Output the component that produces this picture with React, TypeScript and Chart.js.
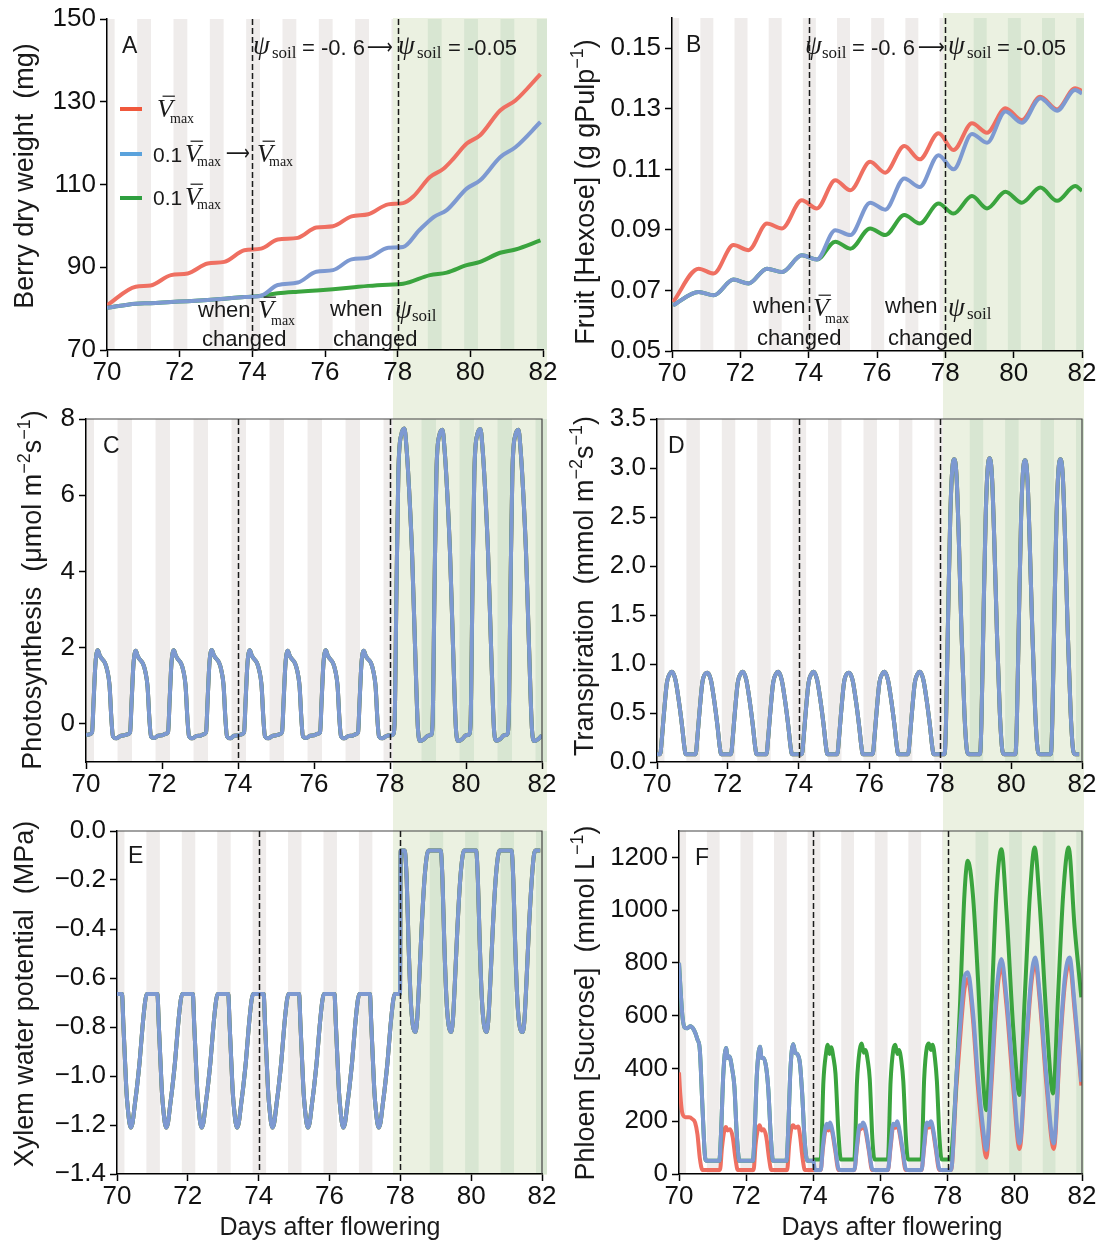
import React, { useEffect, useRef } from 'react';
import { Chart, registerables } from 'chart.js';
Chart.register(...registerables);

const SANS = 'Liberation Sans, Arial, Helvetica, sans-serif';
const SERIF = 'Liberation Serif, Times New Roman, serif';
const INK = '#1a1a1a';

const RED = '#ef6f61';
const BLUE = '#7d99d1';
const GREEN = '#3aa43e';
const RED_L = '#f0583c';
const BLUE_L = '#5aa2dc';
const GREEN_L = '#2e9f3f';
const GRAY_BAND = '#efeceb';
const GREEN_BG = '#ebf1e1';
const GREEN_BAND = '#d8e6d2';

// ---------- shared axis data ----------
const xTicks = [70, 72, 74, 76, 78, 80, 82];
const changeDays = [74, 78];
const nightBands = [
  [70.0, 70.21], [70.83, 71.21], [71.83, 72.21], [72.83, 73.21], [73.83, 74.21],
  [74.83, 75.21], [75.83, 76.21], [76.83, 77.21], [77.83, 78.21],
];
const wetNightBands = [[78.83, 79.21], [79.83, 80.21], [80.83, 81.21], [81.83, 82.2]];

// ---------- A: berry dry weight (mg) ----------
const dwTicks = [70, 90, 110, 130, 150];
const dwRedX = [70.00, 70.79, 71.20, 71.76, 72.22, 72.77, 73.23, 73.78, 74.24, 74.70, 75.25, 75.76, 76.22, 76.73, 77.19, 77.74, 78.15, 78.43, 78.89, 79.26, 79.53, 79.90, 80.27, 80.82, 81.24, 81.93];
const dwRedY = [80.8, 85.3, 85.6, 88.1, 88.5, 90.9, 91.3, 94.1, 94.5, 96.7, 97.1, 99.6, 99.9, 102.3, 102.8, 105.2, 105.5, 107.1, 111.8, 113.8, 116.2, 119.9, 121.9, 127.9, 130.3, 136.7];
const dwBlueX = [70.00, 70.79, 71.20, 71.76, 72.22, 72.77, 73.23, 73.78, 74.24, 74.70, 75.25, 75.76, 76.22, 76.73, 77.19, 77.74, 78.15, 78.60, 79.00, 79.35, 79.90, 80.27, 80.82, 81.24, 81.93];
const dwBlueY = [80.2, 81.2, 81.3, 81.6, 81.8, 82.1, 82.4, 82.8, 83.1, 85.7, 86.3, 88.9, 89.3, 91.9, 92.3, 94.7, 94.9, 99.0, 102.2, 103.8, 109.0, 111.0, 116.6, 119.0, 125.1];
const dwGreenX = [70.00, 70.79, 71.20, 71.76, 72.22, 72.77, 73.23, 73.78, 74.24, 74.70, 75.25, 75.76, 76.22, 76.73, 77.19, 77.74, 78.15, 78.89, 79.35, 79.90, 80.27, 80.82, 81.24, 81.93];
const dwGreenY = [80.2, 81.2, 81.3, 81.6, 81.8, 82.1, 82.4, 82.8, 83.1, 83.7, 84.1, 84.4, 84.7, 85.1, 85.5, 85.8, 86.0, 88.1, 88.7, 90.5, 91.3, 93.5, 94.3, 96.5];

// ---------- B: fruit hexose ----------
const hexTicks = [0.05, 0.07, 0.09, 0.11, 0.13, 0.15];
const hexX = [70.03, 70.78, 71.22, 71.80, 72.24, 72.78, 73.22, 73.80, 74.24, 74.78, 75.22, 75.80, 76.24, 76.80, 77.25, 77.80, 78.24, 78.78, 79.22, 79.76, 80.24, 80.78, 81.27, 81.80, 82.00];
const hexRedY = [0.0662, 0.0772, 0.0756, 0.0850, 0.0833, 0.0921, 0.0905, 0.0998, 0.0971, 0.1064, 0.1031, 0.1125, 0.1089, 0.1177, 0.1133, 0.1219, 0.1164, 0.1252, 0.1221, 0.1302, 0.1263, 0.1340, 0.1298, 0.1368, 0.1359];
const hexBlueY = [0.0651, 0.0695, 0.0684, 0.0736, 0.0723, 0.0772, 0.0761, 0.0816, 0.0802, 0.0899, 0.0883, 0.0990, 0.0967, 0.1070, 0.1042, 0.1147, 0.1100, 0.1217, 0.1188, 0.1291, 0.1254, 0.1335, 0.1294, 0.1362, 0.1351];
const hexGreenY = [0.0651, 0.0695, 0.0684, 0.0736, 0.0723, 0.0772, 0.0761, 0.0816, 0.0802, 0.0861, 0.0838, 0.0905, 0.0883, 0.0949, 0.0921, 0.0987, 0.0954, 0.1012, 0.0971, 0.1026, 0.0990, 0.1040, 0.0996, 0.1045, 0.1029];

// ---------- C: photosynthesis ----------
const photoTicks = [0, 2, 4, 6, 8];
const photoX = [
  70.00, 70.10, 70.16, 70.20, 70.25, 70.31, 70.36, 70.41, 70.50, 70.56, 70.62, 70.67, 70.71, 70.80, 70.90,
  71.00, 71.10, 71.16, 71.20, 71.25, 71.31, 71.36, 71.41, 71.50, 71.56, 71.62, 71.67, 71.71, 71.80, 71.90,
  72.00, 72.10, 72.16, 72.20, 72.25, 72.31, 72.36, 72.41, 72.50, 72.56, 72.62, 72.67, 72.71, 72.80, 72.90,
  73.00, 73.10, 73.16, 73.20, 73.25, 73.31, 73.36, 73.41, 73.50, 73.56, 73.62, 73.67, 73.71, 73.80, 73.90,
  74.00, 74.10, 74.16, 74.20, 74.25, 74.31, 74.36, 74.41, 74.50, 74.56, 74.62, 74.67, 74.71, 74.80, 74.90,
  75.00, 75.10, 75.16, 75.20, 75.25, 75.31, 75.36, 75.41, 75.50, 75.56, 75.62, 75.67, 75.71, 75.80, 75.90,
  76.00, 76.10, 76.16, 76.20, 76.25, 76.31, 76.36, 76.41, 76.50, 76.56, 76.62, 76.67, 76.71, 76.80, 76.90,
  77.00, 77.10, 77.16, 77.20, 77.25, 77.31, 77.36, 77.41, 77.50, 77.56, 77.62, 77.67, 77.71, 77.80, 77.90,
  78.00, 78.08, 78.12, 78.17, 78.22, 78.30, 78.38, 78.43, 78.50, 78.58, 78.66, 78.74, 78.80, 78.90,
  79.00, 79.08, 79.12, 79.17, 79.22, 79.30, 79.38, 79.43, 79.50, 79.58, 79.66, 79.74, 79.80, 79.90,
  80.00, 80.08, 80.12, 80.17, 80.22, 80.30, 80.38, 80.43, 80.50, 80.58, 80.66, 80.74, 80.80, 80.90,
  81.00, 81.08, 81.12, 81.17, 81.22, 81.30, 81.38, 81.43, 81.50, 81.58, 81.66, 81.74, 81.80, 81.90,
  82.00,
];
const photoY = [
  -0.30, -0.27, -0.22, 0.60, 1.60, 1.93, 1.80, 1.72, 1.60, 1.40, 1.00, 0.10, -0.33, -0.38, -0.32,
  -0.30, -0.27, -0.22, 0.58, 1.58, 1.92, 1.78, 1.70, 1.58, 1.38, 0.98, 0.10, -0.33, -0.37, -0.31,
  -0.30, -0.26, -0.21, 0.60, 1.61, 1.93, 1.80, 1.71, 1.59, 1.40, 1.00, 0.12, -0.32, -0.38, -0.32,
  -0.31, -0.27, -0.22, 0.61, 1.62, 1.94, 1.81, 1.73, 1.61, 1.41, 1.01, 0.11, -0.33, -0.38, -0.31,
  -0.30, -0.27, -0.22, 0.60, 1.60, 1.93, 1.80, 1.72, 1.60, 1.40, 1.00, 0.10, -0.33, -0.38, -0.32,
  -0.30, -0.27, -0.21, 0.59, 1.59, 1.92, 1.79, 1.71, 1.59, 1.39, 0.99, 0.10, -0.33, -0.37, -0.31,
  -0.30, -0.26, -0.22, 0.60, 1.61, 1.93, 1.80, 1.72, 1.60, 1.40, 1.00, 0.11, -0.32, -0.38, -0.32,
  -0.31, -0.27, -0.22, 0.60, 1.60, 1.92, 1.79, 1.71, 1.60, 1.39, 0.99, 0.10, -0.33, -0.38, -0.32,
  -0.30, -0.28, 0.00, 3.50, 6.60, 7.60, 7.75, 7.30, 6.20, 4.50, 2.00, -0.20, -0.45, -0.40,
  -0.31, -0.29, 0.00, 3.45, 6.55, 7.58, 7.72, 7.28, 6.18, 4.48, 1.98, -0.20, -0.45, -0.40,
  -0.30, -0.28, 0.02, 3.52, 6.60, 7.60, 7.74, 7.30, 6.20, 4.50, 2.00, -0.19, -0.44, -0.40,
  -0.30, -0.28, 0.00, 3.48, 6.58, 7.58, 7.72, 7.28, 6.18, 4.48, 1.98, -0.20, -0.45, -0.40,
  -0.30,
];

// ---------- D: transpiration ----------
const transTicks = [0, 0.5, 1.0, 1.5, 2.0, 2.5, 3.0, 3.5];
const transX = [
  70.00, 70.09, 70.14, 70.19, 70.28, 70.36, 70.42, 70.52, 70.61, 70.71, 70.77, 70.81,
  71.09, 71.14, 71.19, 71.28, 71.36, 71.42, 71.52, 71.61, 71.71, 71.77, 71.81,
  72.09, 72.14, 72.19, 72.28, 72.36, 72.42, 72.52, 72.61, 72.71, 72.77, 72.81,
  73.09, 73.14, 73.19, 73.28, 73.36, 73.42, 73.52, 73.61, 73.71, 73.77, 73.81,
  74.09, 74.14, 74.19, 74.28, 74.36, 74.42, 74.52, 74.61, 74.71, 74.77, 74.81,
  75.09, 75.14, 75.19, 75.28, 75.36, 75.42, 75.52, 75.61, 75.71, 75.77, 75.81,
  76.09, 76.14, 76.19, 76.28, 76.36, 76.42, 76.52, 76.61, 76.71, 76.77, 76.81,
  77.09, 77.14, 77.19, 77.28, 77.36, 77.42, 77.52, 77.61, 77.71, 77.77, 77.81,
  78.12, 78.16, 78.22, 78.28, 78.34, 78.40, 78.46, 78.52, 78.60, 78.68, 78.75, 78.80,
  79.12, 79.16, 79.22, 79.28, 79.34, 79.40, 79.46, 79.52, 79.60, 79.68, 79.75, 79.80,
  80.12, 80.16, 80.22, 80.28, 80.34, 80.40, 80.46, 80.52, 80.60, 80.68, 80.75, 80.80,
  81.12, 81.16, 81.22, 81.28, 81.34, 81.40, 81.46, 81.52, 81.60, 81.68, 81.75, 81.80,
  81.92,
];
const transY = [
  0.08, 0.08, 0.25, 0.47, 0.81, 0.90, 0.92, 0.84, 0.64, 0.36, 0.16, 0.08,
  0.08, 0.25, 0.47, 0.81, 0.90, 0.91, 0.84, 0.64, 0.36, 0.16, 0.08,
  0.08, 0.25, 0.47, 0.81, 0.90, 0.92, 0.84, 0.64, 0.36, 0.16, 0.08,
  0.08, 0.25, 0.47, 0.81, 0.90, 0.92, 0.84, 0.64, 0.36, 0.16, 0.08,
  0.08, 0.25, 0.47, 0.81, 0.90, 0.92, 0.84, 0.64, 0.36, 0.16, 0.08,
  0.08, 0.25, 0.47, 0.81, 0.90, 0.91, 0.84, 0.64, 0.36, 0.16, 0.08,
  0.08, 0.25, 0.47, 0.81, 0.90, 0.92, 0.84, 0.64, 0.36, 0.16, 0.08,
  0.08, 0.25, 0.47, 0.81, 0.90, 0.92, 0.84, 0.64, 0.36, 0.16, 0.08,
  0.08, 0.40, 1.50, 2.50, 3.00, 3.09, 2.90, 2.30, 1.30, 0.50, 0.12, 0.08,
  0.08, 0.40, 1.50, 2.50, 3.01, 3.10, 2.90, 2.30, 1.30, 0.50, 0.12, 0.08,
  0.08, 0.40, 1.49, 2.49, 2.99, 3.08, 2.89, 2.29, 1.30, 0.50, 0.12, 0.08,
  0.08, 0.40, 1.50, 2.50, 3.00, 3.09, 2.90, 2.30, 1.30, 0.50, 0.12, 0.08,
  0.08,
];

// ---------- E: xylem water potential ----------
const xylTicks = [-1.4, -1.2, -1.0, -0.8, -0.6, -0.4, -0.2, 0.0];
const xylX = [
  70.00, 70.14, 70.18, 70.23, 70.27, 70.31, 70.35, 70.39, 70.44, 70.50, 70.56, 70.64, 70.72, 70.80, 70.84,
  71.14, 71.18, 71.23, 71.27, 71.31, 71.35, 71.39, 71.44, 71.50, 71.56, 71.64, 71.72, 71.80, 71.84,
  72.14, 72.18, 72.23, 72.27, 72.31, 72.35, 72.39, 72.44, 72.50, 72.56, 72.64, 72.72, 72.80, 72.84,
  73.14, 73.18, 73.23, 73.27, 73.31, 73.35, 73.39, 73.44, 73.50, 73.56, 73.64, 73.72, 73.80, 73.84,
  74.14, 74.18, 74.23, 74.27, 74.31, 74.35, 74.39, 74.44, 74.50, 74.56, 74.64, 74.72, 74.80, 74.84,
  75.14, 75.18, 75.23, 75.27, 75.31, 75.35, 75.39, 75.44, 75.50, 75.56, 75.64, 75.72, 75.80, 75.84,
  76.14, 76.18, 76.23, 76.27, 76.31, 76.35, 76.39, 76.44, 76.50, 76.56, 76.64, 76.72, 76.80, 76.84,
  77.14, 77.18, 77.23, 77.27, 77.31, 77.35, 77.39, 77.44, 77.50, 77.56, 77.64, 77.72, 77.80, 77.84,
  77.99, 78.01,
  78.12, 78.18, 78.23, 78.29, 78.35, 78.42, 78.47, 78.53, 78.60, 78.68, 78.75, 78.80,
  79.14, 79.19, 79.24, 79.30, 79.36, 79.43, 79.48, 79.54, 79.61, 79.69, 79.76, 79.80,
  80.14, 80.19, 80.24, 80.30, 80.36, 80.43, 80.48, 80.54, 80.61, 80.69, 80.76, 80.80,
  81.14, 81.19, 81.24, 81.30, 81.36, 81.45, 81.50, 81.56, 81.63, 81.71, 81.77, 81.81,
  81.95,
];
const xylY = [
  -0.665, -0.665, -0.79, -0.95, -1.07, -1.14, -1.19, -1.21, -1.19, -1.12, -1.05, -0.94, -0.80, -0.69, -0.665,
  -0.665, -0.79, -0.95, -1.07, -1.14, -1.19, -1.21, -1.19, -1.12, -1.05, -0.94, -0.80, -0.69, -0.665,
  -0.665, -0.79, -0.95, -1.07, -1.14, -1.19, -1.21, -1.19, -1.12, -1.05, -0.94, -0.80, -0.69, -0.665,
  -0.665, -0.79, -0.95, -1.07, -1.14, -1.19, -1.21, -1.19, -1.12, -1.05, -0.94, -0.80, -0.69, -0.665,
  -0.665, -0.79, -0.95, -1.07, -1.14, -1.19, -1.21, -1.19, -1.12, -1.05, -0.94, -0.80, -0.69, -0.665,
  -0.665, -0.79, -0.95, -1.07, -1.14, -1.19, -1.21, -1.19, -1.12, -1.05, -0.94, -0.80, -0.69, -0.665,
  -0.665, -0.79, -0.95, -1.07, -1.14, -1.19, -1.21, -1.19, -1.12, -1.05, -0.94, -0.80, -0.69, -0.665,
  -0.665, -0.79, -0.95, -1.07, -1.14, -1.19, -1.21, -1.19, -1.12, -1.05, -0.94, -0.80, -0.69, -0.665,
  -0.665, -0.08,
  -0.08, -0.20, -0.45, -0.68, -0.79, -0.82, -0.78, -0.62, -0.40, -0.20, -0.10, -0.08,
  -0.08, -0.20, -0.45, -0.68, -0.79, -0.82, -0.78, -0.62, -0.40, -0.20, -0.10, -0.08,
  -0.08, -0.20, -0.45, -0.68, -0.79, -0.82, -0.78, -0.62, -0.40, -0.20, -0.10, -0.08,
  -0.08, -0.20, -0.45, -0.68, -0.79, -0.82, -0.78, -0.62, -0.40, -0.20, -0.10, -0.08,
  -0.08,
];

// ---------- F: phloem sucrose ----------
const sucTicks = [0, 200, 400, 600, 800, 1000, 1200];
const sucBlueX = [
  70.00, 70.05, 70.10, 70.17, 70.25, 70.33, 70.45, 70.55, 70.62, 70.70, 70.78, 70.82,
  71.20, 71.25, 71.32, 71.40, 71.45, 71.50, 71.58, 71.65, 71.72, 71.80,
  72.20, 72.25, 72.32, 72.41, 72.46, 72.52, 72.60, 72.66, 72.73, 72.80,
  73.20, 73.25, 73.32, 73.40, 73.46, 73.52, 73.60, 73.67, 73.74, 73.82,
  74.00, 74.05, 74.22, 74.28, 74.35, 74.40, 74.45, 74.50, 74.56, 74.65, 74.75, 74.80,
  75.22, 75.30, 75.38, 75.42, 75.48, 75.55, 75.65, 75.75, 75.80,
  76.22, 76.30, 76.38, 76.45, 76.50, 76.56, 76.65, 76.75, 76.80,
  77.22, 77.30, 77.38, 77.44, 77.50, 77.56, 77.65, 77.75, 77.80,
  78.10, 78.26, 78.41, 78.50, 78.60, 78.75, 78.90, 79.05, 79.15,
  79.30, 79.45, 79.60, 79.75, 79.95, 80.14,
  80.34, 80.49, 80.61, 80.74, 80.94, 81.16,
  81.34, 81.49, 81.63, 81.78, 81.98,
];
const sucBlueY = [
  800, 690, 600, 555, 552, 560, 545, 510, 470, 250, 60, 50,
  50, 150, 380, 478, 440, 445, 400, 330, 150, 50,
  50, 150, 380, 482, 440, 440, 400, 320, 150, 50,
  50, 160, 400, 492, 460, 455, 420, 300, 130, 50,
  50, 15, 15, 100, 170, 190, 175, 195, 170, 100, 20, 15,
  15, 110, 185, 180, 195, 175, 100, 20, 15,
  15, 110, 190, 185, 200, 170, 100, 20, 15,
  15, 110, 195, 185, 200, 175, 100, 20, 15,
  15, 368, 620, 746, 765, 620, 368, 179, 91,
  368, 683, 815, 670, 368, 116,
  494, 746, 821, 683, 368, 116,
  494, 746, 821, 645, 349,
];
const sucRedX = [
  70.00, 70.04, 70.10, 70.20, 70.30, 70.40, 70.48, 70.55, 70.62, 70.70,
  71.22, 71.28, 71.35, 71.40, 71.45, 71.52, 71.60, 71.68, 71.75,
  72.22, 72.28, 72.35, 72.40, 72.46, 72.52, 72.60, 72.68, 72.75,
  73.22, 73.28, 73.35, 73.40, 73.46, 73.55, 73.60, 73.68, 73.75,
  74.22, 74.28, 74.35, 74.40, 74.45, 74.50, 74.56, 74.65, 74.75,
  75.22, 75.30, 75.38, 75.42, 75.48, 75.55, 75.65, 75.75,
  76.22, 76.30, 76.38, 76.45, 76.50, 76.56, 76.65, 76.75,
  77.22, 77.30, 77.38, 77.44, 77.50, 77.56, 77.65, 77.75,
  78.10, 78.26, 78.41, 78.50, 78.60, 78.75, 78.90, 79.05, 79.15,
  79.30, 79.45, 79.60, 79.75, 79.95, 80.14,
  80.34, 80.49, 80.61, 80.74, 80.94, 81.16,
  81.34, 81.49, 81.63, 81.78, 81.98,
];
const sucRedY = [
  385, 300, 230, 215, 215, 208, 195, 150, 60, 15,
  15, 100, 165, 178, 165, 170, 140, 60, 15,
  15, 110, 170, 185, 165, 170, 140, 60, 15,
  15, 110, 175, 185, 175, 180, 150, 60, 15,
  15, 90, 160, 180, 165, 182, 160, 90, 15,
  15, 100, 175, 170, 185, 165, 90, 15,
  15, 100, 180, 175, 188, 160, 90, 15,
  15, 100, 185, 175, 190, 165, 90, 15,
  15, 330, 580, 700, 740, 590, 330, 140, 62,
  330, 650, 790, 640, 330, 95,
  470, 720, 800, 660, 340, 95,
  470, 720, 800, 620, 335,
];
const sucGreenX = [
  70.00, 70.05, 70.10, 70.17, 70.25, 70.33, 70.45, 70.55, 70.62, 70.70, 70.78, 70.82,
  71.20, 71.25, 71.32, 71.40, 71.45, 71.50, 71.58, 71.65, 71.72, 71.80,
  72.20, 72.25, 72.32, 72.41, 72.46, 72.52, 72.60, 72.66, 72.73, 72.80,
  73.20, 73.25, 73.32, 73.40, 73.46, 73.52, 73.60, 73.67, 73.74, 73.82,
  74.00, 74.05, 74.22, 74.30, 74.38, 74.43, 74.48, 74.53, 74.60, 74.66, 74.75, 74.82,
  75.22, 75.30, 75.38, 75.44, 75.50, 75.55, 75.62, 75.68, 75.76, 75.82,
  76.22, 76.30, 76.38, 76.44, 76.50, 76.55, 76.62, 76.68, 76.76, 76.82,
  77.22, 77.30, 77.38, 77.44, 77.50, 77.55, 77.62, 77.68, 77.76, 77.82,
  78.08, 78.16, 78.36, 78.50, 78.60, 78.75, 78.90, 79.05, 79.15,
  79.30, 79.45, 79.60, 79.75, 79.95, 80.14,
  80.30, 80.45, 80.59, 80.74, 80.94, 81.14,
  81.29, 81.44, 81.60, 81.78, 81.98,
];
const sucGreenY = [
  800, 690, 600, 555, 552, 560, 545, 510, 470, 250, 60, 50,
  50, 150, 380, 478, 440, 445, 400, 330, 150, 50,
  50, 150, 380, 482, 440, 440, 400, 320, 150, 50,
  50, 160, 400, 492, 460, 455, 420, 300, 130, 50,
  50, 55, 55, 350, 460, 490, 455, 480, 440, 380, 150, 55,
  55, 350, 470, 495, 460, 470, 430, 360, 130, 55,
  55, 350, 470, 490, 455, 470, 430, 350, 130, 55,
  55, 360, 480, 495, 470, 490, 440, 350, 130, 55,
  55, 150, 620, 1061, 1187, 1060, 746, 368, 242,
  620, 1061, 1231, 998, 557, 299,
  683, 1061, 1237, 1023, 595, 305,
  683, 1061, 1237, 935, 670,
];

// ---------- helpers ----------
type Pt = { x: number; y: number };
const zip = (xs: number[], ys: number[]): Pt[] => xs.map((x, i) => ({ x, y: ys[i] }));

type Ann =
  | { k: 't'; t: string; x: number; y: number; f: string; over?: boolean; w?: number; mid?: boolean }
  | { k: 'l'; x1: number; x2: number; y: number; c: string };

type Title = { rot: boolean; x: number; y: number; size: number; parts: { t: string; sup?: boolean }[] };

const sans = (s: number) => `${s}px ${SANS}`;
const T = (t: string, x: number, y: number, f: string = sans(22)): Ann => ({ k: 't', t, x, y, f });
const vmax = (x: number, y: number, xm: number, ym: number): Ann[] => [
  { k: 't', t: 'V', x, y, f: `italic 26px ${SERIF}`, over: true },
  { k: 't', t: 'max', x: xm, y: ym, f: `14px ${SERIF}` },
];
const psi = (x: number, y: number, xs: number, ys: number): Ann[] => [
  { k: 't', t: 'ψ', x, y, f: `italic 27px ${SERIF}` },
  { k: 't', t: 'soil', x: xs, y: ys, f: `17px ${SERIF}` },
];
const arrow = (x: number, y: number, w: number): Ann => ({ k: 't', t: '⟶', x, y, f: '22px DejaVu Sans', mid: true, w });

interface PanelCfg {
  left: number; top: number; width: number; height: number;
  area: [number, number, number, number];
  yMin: number; yMax: number; yTicks: number[]; yFmt: (v: number) => string;
  series: { d: Pt[]; c: string }[];
  box: boolean;
  col: [number, number, number, number];
  anns: Ann[];
  titles: Title[];
}

function drawAnn(ctx: CanvasRenderingContext2D, a: Ann, ox: number, oy: number) {
  if (a.k === 'l') {
    ctx.strokeStyle = a.c; ctx.lineWidth = 4; ctx.setLineDash([]);
    ctx.beginPath(); ctx.moveTo(a.x1 - ox, a.y - oy); ctx.lineTo(a.x2 - ox, a.y - oy); ctx.stroke();
    return;
  }
  ctx.font = a.f; ctx.fillStyle = INK; ctx.textAlign = 'left';
  ctx.textBaseline = a.mid ? 'middle' : 'alphabetic';
  const w = ctx.measureText(a.t).width;
  const x = a.x - ox, y = a.y - oy;
  if (a.w) {
    ctx.save(); ctx.translate(x, y); ctx.scale(a.w / w, 1); ctx.fillText(a.t, 0, 0); ctx.restore();
  } else ctx.fillText(a.t, x, y);
  if (a.over) {
    const m = a.f.match(/(\d+)px/);
    const fs = m ? parseFloat(m[1]) : 26;
    ctx.strokeStyle = INK; ctx.lineWidth = 1.2; ctx.setLineDash([]);
    ctx.beginPath(); ctx.moveTo(x + w * 0.35, y - fs * 0.8); ctx.lineTo(x + w + 2, y - fs * 0.8); ctx.stroke();
  }
}

function drawTitle(ctx: CanvasRenderingContext2D, t: Title, ox: number, oy: number) {
  const main = sans(t.size), sup = sans(Math.round(t.size * 0.68));
  ctx.save();
  let total = 0;
  for (const p of t.parts) { ctx.font = p.sup ? sup : main; total += ctx.measureText(p.t).width; }
  ctx.translate(t.x - ox, t.y - oy);
  if (t.rot) ctx.rotate(-Math.PI / 2);
  ctx.fillStyle = INK; ctx.textAlign = 'left'; ctx.textBaseline = 'alphabetic';
  let x = -total / 2;
  for (const p of t.parts) {
    ctx.font = p.sup ? sup : main;
    ctx.fillText(p.t, x, p.sup ? -t.size * 0.42 : 0);
    x += ctx.measureText(p.t).width;
  }
  ctx.restore();
}

function makePlugin(cfg: PanelCfg) {
  return {
    id: 'deco',
    beforeDraw(chart: any) {
      const ctx: CanvasRenderingContext2D = chart.ctx;
      const a = chart.chartArea; const xs = chart.scales.x;
      ctx.save();
      ctx.fillStyle = GRAY_BAND;
      for (const [s, e] of nightBands) {
        const x1 = xs.getPixelForValue(s), x2 = xs.getPixelForValue(e);
        ctx.fillRect(x1, a.top, x2 - x1, a.bottom - a.top);
      }
      const [gx1, gx2, gy1, gy2] = cfg.col;
      ctx.fillStyle = GREEN_BG;
      ctx.fillRect(gx1 - cfg.left, gy1 - cfg.top, gx2 - gx1, gy2 - gy1);
      ctx.beginPath();
      ctx.rect(gx1 - cfg.left, a.top, gx2 - gx1, a.bottom - a.top);
      ctx.clip();
      ctx.fillStyle = GREEN_BAND;
      for (const [s, e] of wetNightBands) {
        const x1 = xs.getPixelForValue(s), x2 = xs.getPixelForValue(e);
        ctx.fillRect(x1, a.top, x2 - x1, a.bottom - a.top);
      }
      ctx.restore();
    },
    afterDraw(chart: any) {
      const ctx: CanvasRenderingContext2D = chart.ctx;
      const a = chart.chartArea; const xs = chart.scales.x;
      ctx.save();
      if (cfg.box) {
        ctx.strokeStyle = '#444'; ctx.lineWidth = 1.2; ctx.setLineDash([]);
        ctx.beginPath();
        ctx.moveTo(a.left, a.top); ctx.lineTo(a.right, a.top); ctx.lineTo(a.right, a.bottom);
        ctx.stroke();
      }
      ctx.strokeStyle = INK; ctx.lineWidth = 1.5; ctx.setLineDash([6, 3]);
      for (const d of changeDays) {
        const px = Math.round(xs.getPixelForValue(d)) + 0.5;
        ctx.beginPath(); ctx.moveTo(px, a.top); ctx.lineTo(px, a.bottom); ctx.stroke();
      }
      ctx.setLineDash([]);
      for (const an of cfg.anns) drawAnn(ctx, an, cfg.left, cfg.top);
      for (const t of cfg.titles) drawTitle(ctx, t, cfg.left, cfg.top);
      ctx.restore();
    },
  };
}

function Panel({ cfg }: { cfg: PanelCfg }) {
  const ref = useRef<HTMLCanvasElement>(null);
  useEffect(() => {
    if (!ref.current) return;
    const [L, R, Tp, B] = cfg.area;
    const yW = L - cfg.left;
    const xH = 35;
    const pr = cfg.left + cfg.width - R;
    const pt = Tp - cfg.top;
    const pb = cfg.top + cfg.height - B - xH;
    const tickFont = { family: SANS, size: 26 };
    const chart = new Chart(ref.current, {
      type: 'line',
      data: {
        // first dataset is drawn on top
        datasets: cfg.series.map((s) => ({
          data: s.d, borderColor: s.c, backgroundColor: s.c, borderWidth: 4,
          pointRadius: 0, fill: false, cubicInterpolationMode: 'monotone' as const,
        })),
      },
      options: {
        responsive: false,
        animation: false,
        events: [],
        layout: { padding: { left: 0, right: pr, top: pt, bottom: pb } },
        plugins: { legend: { display: false }, tooltip: { enabled: false }, title: { display: false } },
        scales: {
          x: {
            type: 'linear', min: 70, max: 82,
            afterBuildTicks: (s: any) => { s.ticks = xTicks.map((v) => ({ value: v })); },
            afterFit: (s: any) => { s.height = xH; s.paddingLeft = 0; s.paddingRight = 0; s.paddingTop = 0; s.paddingBottom = 0; },
            ticks: { font: tickFont, color: '#111', padding: 0, maxRotation: 0, autoSkip: false, callback: (v: any) => String(v) },
            grid: { display: true, drawOnChartArea: false, drawTicks: true, tickLength: 7, tickWidth: 1.5, tickColor: '#000' },
            border: { display: true, color: '#000', width: 1.5 },
          },
          y: {
            type: 'linear', min: cfg.yMin, max: cfg.yMax,
            afterBuildTicks: (s: any) => { s.ticks = cfg.yTicks.map((v) => ({ value: v })); },
            afterFit: (s: any) => { s.width = yW; s.paddingLeft = 0; s.paddingRight = 0; s.paddingTop = 0; s.paddingBottom = 0; },
            ticks: { font: tickFont, color: '#111', padding: 4, autoSkip: false, callback: (v: any) => cfg.yFmt(Number(v)) },
            grid: { display: true, drawOnChartArea: false, drawTicks: true, tickLength: 7, tickWidth: 1.5, tickColor: '#000' },
            border: { display: true, color: '#000', width: 1.5 },
          },
        },
      } as any,
      plugins: [makePlugin(cfg)],
    });
    return () => chart.destroy();
  }, [cfg]);
  return (
    <canvas
      ref={ref}
      width={cfg.width}
      height={cfg.height}
      style={{ position: 'absolute', left: cfg.left, top: cfg.top, width: cfg.width, height: cfg.height }}
    />
  );
}

const COL1: [number, number, number, number] = [393, 547, 18, 1175];
const COL2: [number, number, number, number] = [943, 1084, 13, 1175];
const minus = (v: number, d: number) => (v < 0 ? '\u2212' : '') + Math.abs(v).toFixed(d);

const panels: PanelCfg[] = [
  {
    left: 0, top: 0, width: 560, height: 395, area: [107, 543, 19, 350],
    yMin: 70, yMax: 150, yTicks: dwTicks, yFmt: (v) => String(v),
    series: [
      { d: zip(dwBlueX, dwBlueY), c: BLUE },
      { d: zip(dwGreenX, dwGreenY), c: GREEN },
      { d: zip(dwRedX, dwRedY), c: RED },
    ],
    box: false, col: COL1,
    anns: [
      T('A', 122, 53, sans(23)),
      ...psi(253, 54, 272, 58), T('= -0. 6', 302, 55), arrow(367, 48, 26),
      ...psi(398, 54, 417, 58), T('= -0.05', 448, 55),
      { k: 'l', x1: 120, x2: 142, y: 109, c: RED_L },
      { k: 'l', x1: 120, x2: 142, y: 154, c: BLUE_L },
      { k: 'l', x1: 120, x2: 142, y: 198, c: GREEN_L },
      ...vmax(157, 117, 170, 123),
      T('0.1', 153, 162, sans(21)), ...vmax(185, 162, 197, 166), arrow(226, 154, 24), ...vmax(257, 162, 269, 166),
      T('0.1', 153, 205, sans(21)), ...vmax(185, 205, 197, 209),
      T('when', 198, 317), ...vmax(258, 318, 271, 325), T('changed', 202, 346),
      T('when', 330, 316), ...psi(395, 318, 412, 321), T('changed', 333, 346),
    ],
    titles: [{ rot: true, x: 33, y: 176, size: 27, parts: [{ t: 'Berry dry weight  (mg)' }] }],
  },
  {
    left: 560, top: 0, width: 539, height: 395, area: [672, 1082, 18, 351],
    yMin: 0.05, yMax: 0.16, yTicks: hexTicks, yFmt: (v) => v.toFixed(2),
    series: [
      { d: zip(hexX, hexBlueY), c: BLUE },
      { d: zip(hexX, hexGreenY), c: GREEN },
      { d: zip(hexX, hexRedY), c: RED },
    ],
    box: false, col: COL2,
    anns: [
      T('B', 686, 52, sans(23)),
      ...psi(805, 54, 822, 58), T('= -0. 6', 852, 55), arrow(918, 48, 27),
      ...psi(948, 54, 967, 58), T('= -0.05', 997, 55),
      T('when', 753, 313), ...vmax(813, 316, 825, 323), T('changed', 757, 345),
      T('when', 885, 313), ...psi(948, 316, 967, 319), T('changed', 888, 345),
    ],
    titles: [{ rot: true, x: 594, y: 192, size: 27, parts: [{ t: 'Fruit [Hexose] (g gPulp' }, { t: '−1', sup: true }, { t: ')' }] }],
  },
  {
    left: 0, top: 395, width: 560, height: 410, area: [86, 542, 419, 762],
    yMin: -1, yMax: 8, yTicks: photoTicks, yFmt: (v) => String(v),
    series: [
      { d: zip(photoX, photoY), c: BLUE },
      { d: zip(photoX, photoY), c: GREEN },
      { d: zip(photoX, photoY), c: RED },
    ],
    box: true, col: COL1,
    anns: [T('C', 103, 453, sans(23))],
    titles: [{ rot: true, x: 41, y: 590, size: 27, parts: [{ t: 'Photosynthesis  (μmol m' }, { t: '−2', sup: true }, { t: 's' }, { t: '−1', sup: true }, { t: ')' }] }],
  },
  {
    left: 560, top: 395, width: 539, height: 410, area: [657, 1082, 419, 762],
    yMin: 0, yMax: 3.5, yTicks: transTicks, yFmt: (v) => v.toFixed(1),
    series: [
      { d: zip(transX, transY), c: BLUE },
      { d: zip(transX, transY), c: GREEN },
      { d: zip(transX, transY), c: RED },
    ],
    box: true, col: COL2,
    anns: [T('D', 668, 453, sans(23))],
    titles: [{ rot: true, x: 593, y: 586, size: 27, parts: [{ t: 'Transpiration  (mmol m' }, { t: '−2', sup: true }, { t: 's' }, { t: '−1', sup: true }, { t: ')' }] }],
  },
  {
    left: 0, top: 805, width: 560, height: 438, area: [117, 542, 831, 1174],
    yMin: -1.4, yMax: 0, yTicks: xylTicks, yFmt: (v) => minus(v, 1),
    series: [
      { d: zip(xylX, xylY), c: BLUE },
      { d: zip(xylX, xylY), c: GREEN },
      { d: zip(xylX, xylY), c: RED },
    ],
    box: true, col: COL1,
    anns: [T('E', 128, 863, sans(23))],
    titles: [
      { rot: true, x: 33, y: 994, size: 27, parts: [{ t: 'Xylem water potential  (MPa)' }] },
      { rot: false, x: 330, y: 1235, size: 25, parts: [{ t: 'Days after flowering' }] },
    ],
  },
  {
    left: 560, top: 805, width: 539, height: 438, area: [679, 1082, 831, 1174],
    yMin: 0, yMax: 1300, yTicks: sucTicks, yFmt: (v) => String(v),
    series: [
      { d: zip(sucBlueX, sucBlueY), c: BLUE },
      { d: zip(sucGreenX, sucGreenY), c: GREEN },
      { d: zip(sucRedX, sucRedY), c: RED },
    ],
    box: true, col: COL2,
    anns: [T('F', 695, 865, sans(23))],
    titles: [
      { rot: true, x: 594, y: 1003, size: 27, parts: [{ t: 'Phloem [Sucrose]  (mmol L' }, { t: '−1', sup: true }, { t: ')' }] },
      { rot: false, x: 892, y: 1235, size: 25, parts: [{ t: 'Days after flowering' }] },
    ],
  },
];

export default function App() {
  return (
    <div style={{ position: 'absolute', left: 0, top: 0, width: 1099, height: 1243, background: '#fff', overflow: 'hidden' }}>
      {panels.map((p, i) => <Panel key={i} cfg={p} />)}
    </div>
  );
}
